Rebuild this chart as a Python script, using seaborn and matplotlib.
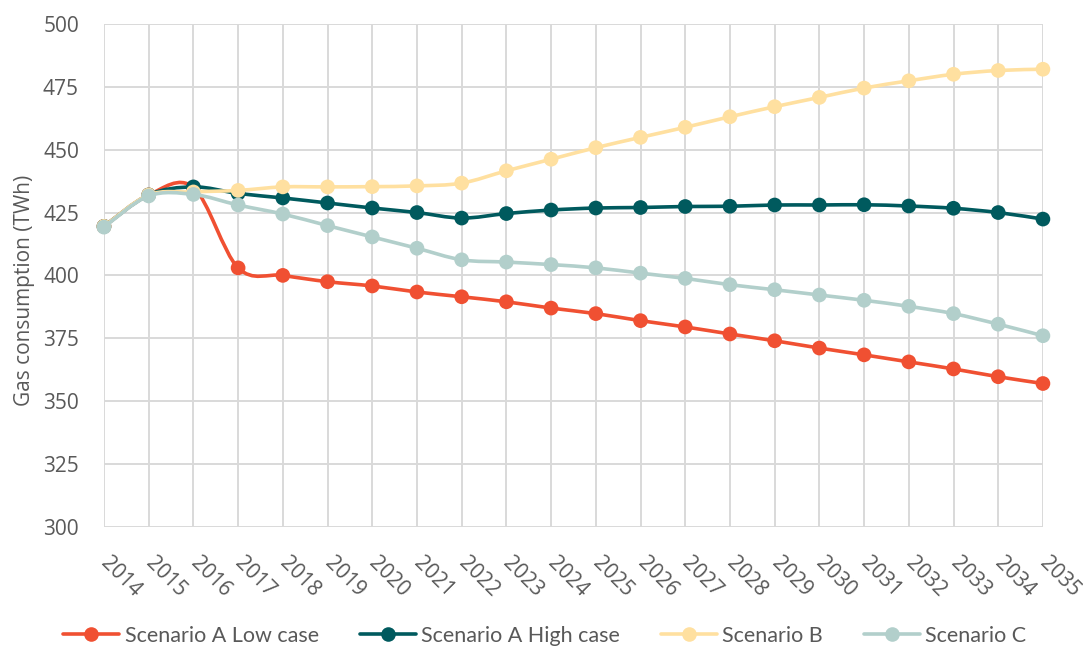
import numpy as np
import pandas as pd
import matplotlib
matplotlib.use("Agg")
import matplotlib.pyplot as plt
from matplotlib.path import Path
from matplotlib.patches import PathPatch
from matplotlib.lines import Line2D
import seaborn as sns

# ---- data -------------------------------------------------------------
years = list(range(2014, 2036))

low_case = [419.5, 432.0, 435.0, 403.0, 400.0, 397.5, 395.8, 393.4, 391.5, 389.5,
            387.0, 384.8, 382.0, 379.5, 376.7, 374.0, 371.1, 368.4, 365.6, 362.8,
            359.7, 357.0]
high_case = [419.5, 432.0, 435.2, 432.6, 430.8, 428.8, 426.8, 425.0, 422.8, 424.6,
             426.0, 426.8, 427.0, 427.4, 427.5, 428.0, 428.0, 428.1, 427.6, 426.7,
             425.0, 422.4]
scenario_b = [419.5, 432.0, 433.2, 433.8, 435.2, 435.2, 435.3, 435.6, 436.7, 441.6,
              446.2, 450.8, 454.9, 458.9, 463.1, 467.1, 470.8, 474.5, 477.4, 480.0,
              481.5, 482.0]
scenario_c = [419.2, 431.6, 432.2, 428.0, 424.4, 419.8, 415.3, 410.8, 406.2, 405.3,
              404.3, 403.0, 400.9, 398.8, 396.3, 394.3, 392.2, 390.1, 387.7, 384.8,
              380.6, 376.0]

series_names = ["Scenario A Low case", "Scenario A High case", "Scenario B", "Scenario C"]
series_values = [low_case, high_case, scenario_b, scenario_c]
series_colors = ["#F05032", "#005A5E", "#FFE0A0", "#B2CFCB"]

y_ticks = [300, 325, 350, 375, 400, 425, 450, 475, 500]

df = pd.concat(
    [pd.DataFrame({"year": years, "value": v, "scenario": n})
     for n, v in zip(series_names, series_values)],
    ignore_index=True,
)


def smooth_path(x, y):
    """Cubic Bezier path through the points (Catmull-Rom style smoothing)."""
    pts = np.column_stack([x, y]).astype(float)
    n = len(pts)
    verts = [pts[0]]
    codes = [Path.MOVETO]
    for i in range(n - 1):
        p0 = pts[max(i - 1, 0)]
        p1 = pts[i]
        p2 = pts[i + 1]
        p3 = pts[min(i + 2, n - 1)]
        c1 = p1 + (p2 - p0) / 6.0
        c2 = p2 - (p3 - p1) / 6.0
        verts += [c1, c2, p2]
        codes += [Path.CURVE4] * 3
    return Path(verts, codes)


# ---- figure -----------------------------------------------------------
sns.set_theme(style="white")
plt.rcParams["font.family"] = ["Open Sans", "DejaVu Sans"]

fig = plt.figure(figsize=(10.83, 6.48), dpi=100)
ax = fig.add_axes([0.096, 0.187, 0.867, 0.776])

grid_color = "#D9D9D9"
text_color = "#595959"

for k, (name, color) in enumerate(zip(series_names, series_colors)):
    sub = df[df["scenario"] == name]
    patch = PathPatch(smooth_path(sub["year"], sub["value"]), facecolor="none",
                      edgecolor=color, lw=2.6, zorder=3 + 2 * k,
                      capstyle="round", joinstyle="round", clip_on=False)
    ax.add_patch(patch)
    sns.scatterplot(data=sub, x="year", y="value", ax=ax, color=color,
                    s=112, edgecolor="none", linewidth=0, legend=False,
                    zorder=4 + 2 * k, clip_on=False)

ax.set_xlim(2014, 2035)
ax.set_ylim(300, 500)
ax.set_xticks(years)
ax.set_yticks(y_ticks)
ax.set_yticklabels([str(t) for t in y_ticks])
ax.set_xticklabels([str(y) for y in years])

ax.grid(True, color=grid_color, lw=1.4, zorder=0)
ax.set_axisbelow(True)
for side in ["left", "bottom", "top", "right"]:
    ax.spines[side].set_visible(False)

ax.tick_params(axis="both", length=0, labelsize=15, colors=text_color)
ax.tick_params(axis="y", pad=18)
ax.tick_params(axis="x", pad=24)
for lab in ax.get_xticklabels():
    lab.set_rotation(-45)
    lab.set_ha("left")
    lab.set_va("center")
    lab.set_rotation_mode("anchor")

ax.set_xlabel("")
ax.set_ylabel("Gas consumption (TWh)", fontsize=15, color=text_color)
ax.yaxis.set_label_coords(-0.073, 0.47)

handles = [Line2D([0], [0], color=c, lw=2.6, marker="o", markersize=10.5,
                  markeredgewidth=0)
           for c in series_colors]
fig.legend(handles, series_names, loc="center", bbox_to_anchor=(0.503, 1 - 636 / 648),
           ncol=4, frameon=False, handlelength=2.6, handletextpad=0.25,
           columnspacing=1.9, prop={"family": "Lato", "size": 15.5},
           labelcolor=text_color)

fig.savefig("out.png", dpi=100, facecolor="white")
